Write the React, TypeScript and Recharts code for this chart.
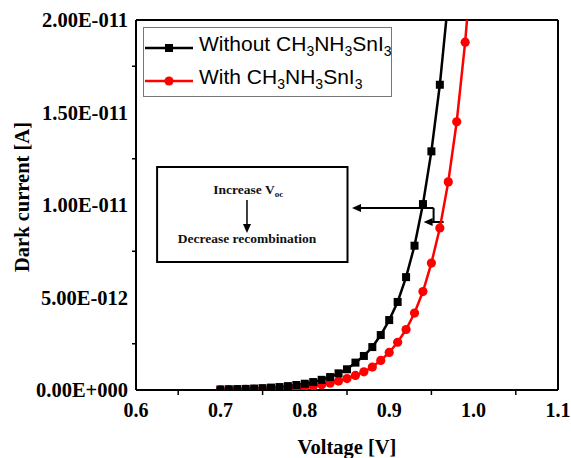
import React from "react";
import {
  LineChart,
  Line,
  XAxis,
  YAxis,
  ReferenceArea,
  ReferenceLine,
  ReferenceDot,
  Label,
} from "recharts";

// voltage steps [V] and dark current [pA]
const voltsWithout = [
  0.7, 0.71, 0.72, 0.73, 0.74, 0.75, 0.76, 0.77, 0.78, 0.79, 0.8, 0.81, 0.82,
  0.83, 0.84, 0.85, 0.86, 0.87, 0.88, 0.89, 0.9, 0.91, 0.92, 0.93, 0.94, 0.95,
  0.96, 0.97,
];
const currentWithout = [
  0.03, 0.04, 0.05, 0.06, 0.08, 0.1, 0.13, 0.16, 0.21, 0.27, 0.34, 0.43, 0.55,
  0.7, 0.9, 1.12, 1.48, 1.84, 2.32, 2.97, 3.78, 4.76, 6.1, 7.8, 10.05, 12.9,
  16.5, 21.1,
];
const voltsWith = [
  0.7, 0.71, 0.72, 0.73, 0.74, 0.75, 0.76, 0.77, 0.78, 0.79, 0.8, 0.81, 0.82,
  0.83, 0.84, 0.85, 0.86, 0.87, 0.88, 0.89, 0.9, 0.91, 0.92, 0.93, 0.94, 0.95,
  0.96, 0.97, 0.98, 0.99, 1.0,
];
const currentWith = [
  0.01, 0.015, 0.02, 0.03, 0.04, 0.05, 0.06, 0.08, 0.1, 0.13, 0.17, 0.22, 0.29,
  0.37, 0.48, 0.62, 0.79, 0.98, 1.24, 1.6, 2.03, 2.58, 3.27, 4.16, 5.32, 6.86,
  8.76, 11.25, 14.5, 18.8, 24.3,
];

const xTicks = [0.6, 0.65, 0.7, 0.75, 0.8, 0.85, 0.9, 0.95, 1.0, 1.05, 1.1];
const xTickLabels = ["0.6", "", "0.7", "", "0.8", "", "0.9", "", "1.0", "", "1.1"];
const yTicks = [0, 2.5, 5, 7.5, 10, 12.5, 15, 17.5, 20];
const yTickLabels = [
  "0.00E+000", "", "5.00E-012", "", "1.00E-011", "", "1.50E-011", "", "2.00E-011",
];

const withoutData = voltsWithout.map((v, i) => ({ v, i: currentWithout[i] }));
const withData = voltsWith.map((v, i) => ({ v, i: currentWith[i] }));

const serif = "'Liberation Serif', 'Times New Roman', serif";
const sans = "'Liberation Sans', Arial, sans-serif";

function XTick(props: any) {
  const { x, y, payload } = props;
  const idx = xTicks.findIndex((t) => Math.abs(t - payload.value) < 1e-6);
  const label = xTickLabels[idx];
  if (!label) {
    return <line x1={x} x2={x} y1={y} y2={y + 5} stroke="#000" strokeWidth={1.5} />;
  }
  return (
    <text x={x} y={y + 27} textAnchor="middle" fontFamily={serif} fontWeight="bold" fontSize={20} fill="#000">
      {label}
    </text>
  );
}

function YTick(props: any) {
  const { x, y, payload } = props;
  const idx = yTicks.findIndex((t) => Math.abs(t - payload.value) < 1e-6);
  const label = yTickLabels[idx];
  if (!label) {
    return <line x1={x - 4} x2={x} y1={y} y2={y} stroke="#000" strokeWidth={1.5} />;
  }
  return (
    <text x={x - 8} y={y + 7} textAnchor="end" fontFamily={serif} fontWeight="bold" fontSize={20.5} fill="#000">
      {label}
    </text>
  );
}

const SquareDot = (p: any) =>
  p.cx == null ? <g key={p.index} /> : (
    <rect key={p.index} x={p.cx - 4} y={p.cy - 4} width={8} height={8} fill="#000" />
  );

const CircleDot = (p: any) =>
  p.cx == null ? <g key={p.index} /> : <circle key={p.index} cx={p.cx} cy={p.cy} r={4.6} fill="#f00" />;

const arrowHead = (dir: "left" | "down") => (p: any) => {
  const { cx, cy } = p;
  const pts =
    dir === "left"
      ? `${cx},${cy} ${cx + 9},${cy - 4} ${cx + 9},${cy + 4}`
      : `${cx},${cy} ${cx - 4},${cy - 9} ${cx + 4},${cy - 9}`;
  return <polygon points={pts} fill="#000" />;
};

const noteText = (kind: "voc" | "rec") => (p: any) => (
  <text x={p.cx} y={p.cy} textAnchor="middle" fontFamily={serif} fontWeight="bold" fontSize={13.5} fill="#111">
    {kind === "voc" ? (
      <>
        Increase V<tspan fontSize={9} dy={3}>oc</tspan>
      </>
    ) : (
      "Decrease recombination"
    )}
  </text>
);

function LegendSample({ color, square }: { color: string; square: boolean }) {
  return (
    <svg width={48} height={12} style={{ display: "block" }}>
      <line x1={0} x2={48} y1={6} y2={6} stroke={color} strokeWidth={2.5} />
      {square ? <rect x={20} y={2} width={8} height={8} fill={color} /> : <circle cx={24} cy={6} r={4.6} fill={color} />}
    </svg>
  );
}

function Formula() {
  const sub = { fontSize: 14, verticalAlign: "-5px" } as React.CSSProperties;
  return (
    <>
      CH<span style={sub}>3</span>NH<span style={sub}>3</span>SnI<span style={sub}>3</span>
    </>
  );
}

export default function App() {
  return (
    <div style={{ position: "absolute", left: 0, top: 0, width: 571, height: 458, background: "#fff" }}>
      <LineChart width={571} height={458} margin={{ top: 20, right: 13, left: 0, bottom: 0 }}>
        <XAxis
          dataKey="v"
          type="number"
          domain={[0.6, 1.1]}
          ticks={xTicks}
          interval={0}
          allowDataOverflow
          height={68}
          axisLine={{ stroke: "#000", strokeWidth: 2 }}
          tickLine={false}
          tickSize={0}
          tickMargin={0}
          tick={(p: any) => <XTick {...p} />}
        >
          <Label
            content={(p: any) => {
              const vb = p.viewBox || { x: 136, y: 390, width: 422, height: 68 };
              return (
                <text x={vb.x + vb.width / 2} y={vb.y + vb.height - 4} textAnchor="middle" fontFamily={serif} fontWeight="bold" fontSize={20.5} fill="#000">
                  Voltage [V]
                </text>
              );
            }}
          />
        </XAxis>
        <YAxis
          type="number"
          domain={[0, 20]}
          ticks={yTicks}
          interval={0}
          allowDataOverflow
          width={136}
          axisLine={{ stroke: "#000", strokeWidth: 2 }}
          tickLine={false}
          tickSize={0}
          tickMargin={0}
          tick={(p: any) => <YTick {...p} />}
        >
          <Label
            content={(p: any) => {
              const vb = p.viewBox || { x: 0, y: 20, width: 136, height: 370 };
              const cx = vb.x + 22;
              const cy = vb.y + vb.height / 2 - 8;
              return (
                <text x={cx} y={cy} transform={`rotate(-90 ${cx} ${cy})`} textAnchor="middle" dominantBaseline="central" fontFamily={serif} fontWeight="bold" fontSize={20.5} fill="#000">
                  Dark current [A]
                </text>
              );
            }}
          />
        </YAxis>

        <ReferenceLine y={20} stroke="#000" strokeWidth={2} />
        <ReferenceLine x={1.1} stroke="#000" strokeWidth={2} />

        <ReferenceArea x1={0.625} x2={0.8506} y1={6.92} y2={12.05} fill="#fff" fillOpacity={1} stroke="#000" strokeWidth={2} />
        <ReferenceDot x={0.733} y={10.6} shape={noteText("voc")} />
        <ReferenceDot x={0.7315} y={7.95} shape={noteText("rec")} />
        <ReferenceLine segment={[{ x: 0.7315, y: 10.27 }, { x: 0.7315, y: 8.9 }]} stroke="#000" strokeWidth={1.5} />
        <ReferenceDot x={0.7315} y={8.49} shape={arrowHead("down")} />

        <ReferenceLine segment={[{ x: 0.862, y: 9.84 }, { x: 0.9526, y: 9.84 }]} stroke="#000" strokeWidth={2} />
        <ReferenceDot x={0.8559} y={9.84} shape={arrowHead("left")} />
        <ReferenceLine segment={[{ x: 0.9526, y: 9.84 }, { x: 0.9526, y: 9.08 }]} stroke="#000" strokeWidth={2} />
        <ReferenceLine segment={[{ x: 0.946, y: 9.08 }, { x: 0.9645, y: 9.08 }]} stroke="#000" strokeWidth={2} />
        <ReferenceDot x={0.9408} y={9.08} shape={arrowHead("left")} />

        <Line
          data={withData}
          dataKey="i"
          type="linear"
          stroke="#f00"
          strokeWidth={2.5}
          dot={CircleDot}
          activeDot={false}
          isAnimationActive={false}
        />
        <Line
          data={withoutData}
          dataKey="i"
          type="linear"
          stroke="#000"
          strokeWidth={2.5}
          dot={SquareDot}
          activeDot={false}
          isAnimationActive={false}
        />
      </LineChart>

      <div
        style={{
          position: "absolute",
          left: 143,
          top: 27,
          width: 249,
          height: 70,
          border: "1.5px solid #777",
          boxSizing: "border-box",
          background: "#fff",
          fontFamily: sans,
          fontSize: 21,
          color: "#000",
        }}
      >
        <div style={{ position: "absolute", left: 1, top: 4, display: "flex", alignItems: "center", whiteSpace: "nowrap", lineHeight: "24px" }}>
          <LegendSample color="#000" square />
          <span style={{ marginLeft: 6 }}>
            Without <Formula />
          </span>
        </div>
        <div style={{ position: "absolute", left: 1, top: 37, display: "flex", alignItems: "center", whiteSpace: "nowrap", lineHeight: "24px" }}>
          <LegendSample color="#f00" square={false} />
          <span style={{ marginLeft: 6 }}>
            With <Formula />
          </span>
        </div>
      </div>
    </div>
  );
}
